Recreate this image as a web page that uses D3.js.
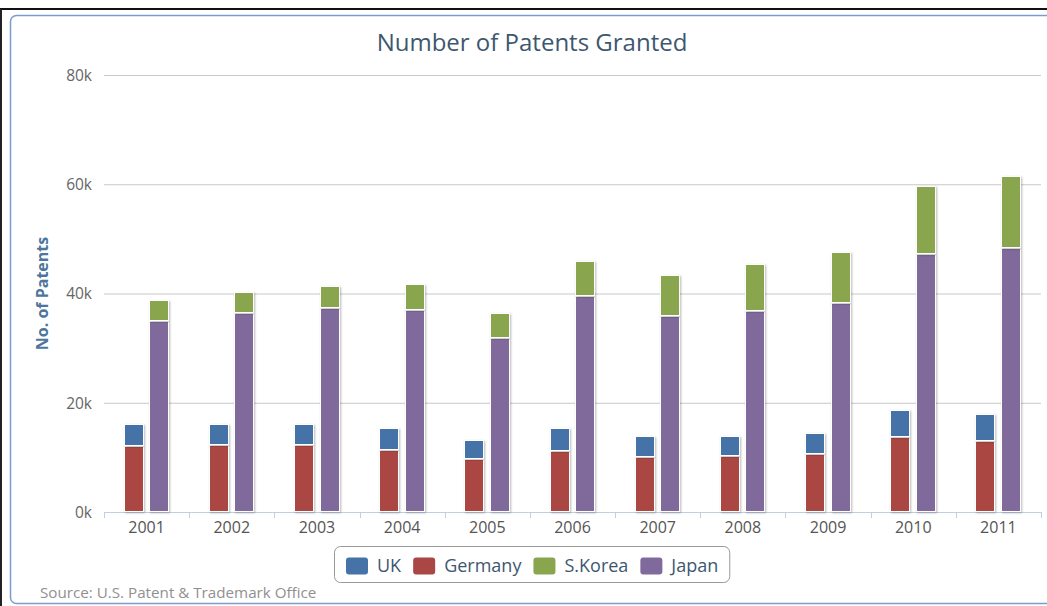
<!DOCTYPE html>
<html>
<head>
<meta charset="utf-8">
<script src="https://cdn.jsdelivr.net/npm/d3@7"></script>
<style>
  html, body { margin: 0; padding: 0; background: #fff; }
  svg { display: block; }
  text { font-family: "Open Sans", "DejaVu Sans", sans-serif; }
</style>
</head>
<body>
<svg id="chart" width="1047" height="606"></svg>
<script>
// Patents granted by the USPTO, per country and year
const years = ["2001", "2002", "2003", "2004", "2005", "2006", "2007", "2008", "2009", "2010", "2011"];
const uk      = [4100, 3920, 3920, 4030, 3480, 4260, 3970, 3710, 3970, 4820, 5070];
const germany = [12050, 12230, 12230, 11310, 9740, 11080, 10030, 10290, 10580, 13820, 12960];
const korea   = [3790, 3720, 4100, 4580, 4580, 6480, 7330, 8610, 9460, 12450, 13330];
const japan   = [34930, 36520, 37310, 37070, 31890, 39510, 35970, 36830, 38170, 47140, 48240];
const yTicks = [0, 20000, 40000, 60000, 80000];

// series in legend order; each belongs to one of two stacks (first listed sits on top)
const series = [
  { name: "UK",      values: uk,      color: "#4572A7", stack: "europe" },
  { name: "Germany", values: germany, color: "#AA4643", stack: "europe" },
  { name: "S.Korea", values: korea,   color: "#89A54E", stack: "asia" },
  { name: "Japan",   values: japan,   color: "#80699B", stack: "asia" }
];
const stacks = ["europe", "asia"];

const svg = d3.select("#chart");
const W = 1047, H = 606;
const plot = { left: 104, right: 1041, top: 75, bottom: 512 };

// drop shadow for columns
const defs = svg.append("defs");
const f = defs.append("filter").attr("id", "shadow")
  .attr("x", "-30%").attr("y", "-10%").attr("width", "160%").attr("height", "120%");
f.append("feDropShadow").attr("dx", 1).attr("dy", 1).attr("stdDeviation", 1.2)
  .attr("flood-color", "#000").attr("flood-opacity", 0.28);

// frame
svg.append("rect").attr("x", 0).attr("y", 0).attr("width", W).attr("height", H).attr("fill", "#fff");
svg.append("line").attr("x1", 0).attr("x2", W).attr("y1", 9).attr("y2", 9)
  .attr("stroke", "#111").attr("stroke-width", 2);
svg.append("line").attr("x1", 1).attr("x2", 1).attr("y1", 9).attr("y2", H)
  .attr("stroke", "#222").attr("stroke-width", 2);
svg.append("rect").attr("x", 10.5).attr("y", 15.5).attr("width", W + 20).attr("height", 588)
  .attr("rx", 6).attr("fill", "#fff").attr("stroke", "#7c9cc9").attr("stroke-width", 1.5);

// scales
const x = d3.scaleBand().domain(years).range([plot.left, plot.right]).paddingInner(0).paddingOuter(0);
const y = d3.scaleLinear().domain([0, 80000]).range([plot.bottom, plot.top]);
const groupPad = 0.2, pointPad = 0.1;
const xs = d3.scaleBand().domain(stacks)
  .range([0, x.bandwidth() * (1 - 2 * groupPad)]);

// title
svg.append("text").attr("x", 532).attr("y", 51)
  .attr("text-anchor", "middle").attr("fill", "#3E576F")
  .style("font-size", "24px").text("Number of Patents Granted");

// grid lines + y axis labels
const yAxis = d3.axisLeft(y).tickValues(yTicks).tickSize(-(plot.right - plot.left))
  .tickFormat(d => (d / 1000) + "k").tickPadding(12);
const gy = svg.append("g").attr("transform", `translate(${plot.left},0)`).call(yAxis);
gy.select(".domain").remove();
gy.selectAll(".tick line").attr("stroke", "#C8C8C8").attr("stroke-width", 1);
gy.selectAll(".tick text").attr("fill", "#666").style("font-size", "15.5px")
  .style("font-family", "'Open Sans', sans-serif").attr("dy", "0.35em");

// y axis title
svg.append("text")
  .attr("transform", `translate(48,${(plot.top + plot.bottom) / 2}) rotate(-90)`)
  .attr("text-anchor", "middle").attr("fill", "#4d759e")
  .style("font-size", "16px").style("font-weight", "bold").text("No. of Patents");

// x axis
const xAxis = d3.axisBottom(x).tickSize(0).tickPadding(10);
const gx = svg.append("g").attr("transform", `translate(0,${plot.bottom})`).call(xAxis);
gx.select(".domain").attr("stroke", "#C0D0E0").attr("d", `M${plot.left},0.5H${plot.right}`);
gx.selectAll(".tick text").attr("fill", "#555").style("font-size", "16px")
  .style("font-family", "'Open Sans', sans-serif");
// category boundary ticks
gx.selectAll(".bound").data(d3.range(years.length + 1)).join("line")
  .attr("class", "bound")
  .attr("x1", i => Math.round(plot.left + i * x.bandwidth()) + 0.5)
  .attr("x2", i => Math.round(plot.left + i * x.bandwidth()) + 0.5)
  .attr("y1", 0).attr("y2", 6).attr("stroke", "#C0D0E0");

// stacked columns
const barW = xs.bandwidth() * (1 - 2 * pointPad);
const bars = svg.append("g");
stacks.forEach(stackKey => {
  const inStack = series.filter(s => s.stack === stackKey).slice().reverse(); // bottom first
  years.forEach((yr, i) => {
    let base = 0;
    inStack.forEach(s => {
      const v = s.values[i];
      const x0 = x(yr) + x.bandwidth() * groupPad + xs(stackKey) + xs.bandwidth() * pointPad;
      bars.append("rect")
        .attr("x", Math.round(x0) + 0.5)
        .attr("y", Math.round(y(base + v)) + 0.5)
        .attr("width", Math.round(barW) - 1)
        .attr("height", Math.round(y(base)) - Math.round(y(base + v)) - 1)
        .attr("fill", s.color)
        .attr("stroke", "#fff").attr("stroke-width", 1)
        .attr("filter", "url(#shadow)");
      base += v;
    });
  });
});

// legend
const legend = svg.append("g");
const itemGap = 12, symW = 22, symH = 17, symTextGap = 9;
let cx = 0;
series.forEach(s => {
  const g = legend.append("g");
  g.append("rect").attr("x", cx).attr("y", -symH / 2 - 6).attr("width", symW).attr("height", symH)
    .attr("rx", 3).attr("fill", s.color);
  const t = g.append("text").attr("x", cx + symW + symTextGap).attr("y", 0)
    .attr("fill", "#3E576F").style("font-size", "18px").text(s.name);
  const w = t.node().getComputedTextLength();
  cx += symW + symTextGap + w + itemGap;
});
const legendW = cx - itemGap;
const lx0 = 346, ly = 572;
legend.attr("transform", `translate(${lx0},${ly})`);
legend.insert("rect", ":first-child")
  .attr("x", -11.5).attr("y", -25.5).attr("width", legendW + 22 + 1).attr("height", 36)
  .attr("rx", 6).attr("fill", "#fff").attr("stroke", "#999").attr("stroke-width", 1);

// credits
svg.append("text").attr("x", 40).attr("y", 598).attr("fill", "#909090")
  .style("font-size", "15.2px").text("Source: U.S. Patent & Trademark Office");
</script>
</body>
</html>
